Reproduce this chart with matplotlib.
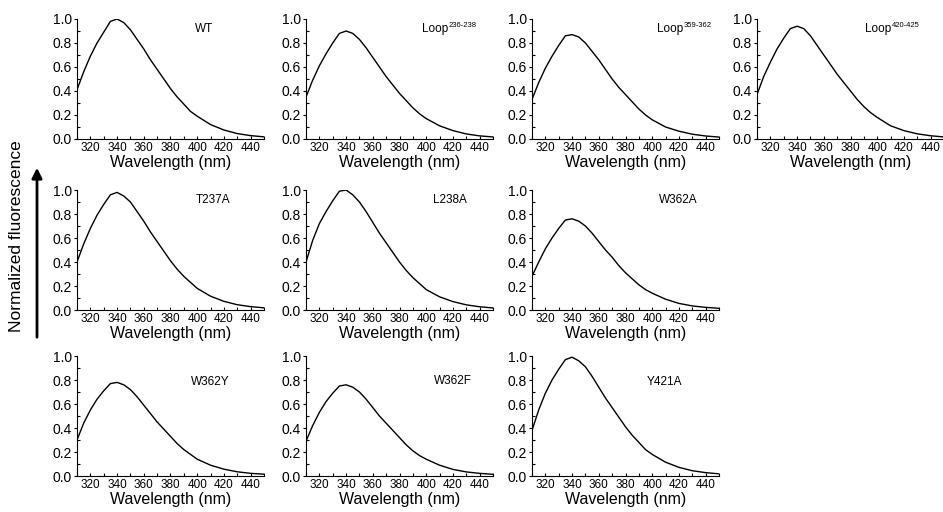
import matplotlib
matplotlib.use("Agg")
import matplotlib.pyplot as plt
from matplotlib.patches import FancyArrowPatch

plt.rcParams['font.family'] = ['Liberation Sans', 'DejaVu Sans']

# emission wavelengths (nm)
wavelength = [310, 315, 320, 325, 330, 335, 340, 345, 350, 355, 360, 365, 370, 375,
              380, 385, 390, 395, 400, 410, 420, 430, 440, 450]

# normalized emission spectra for each construct
wt = [0.41, 0.56, 0.69, 0.80, 0.89, 0.98, 1.00, 0.97, 0.91, 0.83, 0.75, 0.66, 0.58, 0.50,
      0.42, 0.35, 0.29, 0.23, 0.19, 0.12, 0.075, 0.045, 0.028, 0.018]
loop_236 = [0.35, 0.49, 0.61, 0.71, 0.80, 0.88, 0.90, 0.88, 0.83, 0.76, 0.68, 0.60, 0.52, 0.45,
            0.38, 0.32, 0.26, 0.21, 0.17, 0.11, 0.07, 0.042, 0.026, 0.017]
loop_359 = [0.33, 0.47, 0.59, 0.69, 0.78, 0.86, 0.87, 0.85, 0.80, 0.73, 0.66, 0.58, 0.50, 0.43,
            0.37, 0.31, 0.25, 0.20, 0.16, 0.10, 0.065, 0.04, 0.025, 0.016]
loop_420 = [0.37, 0.52, 0.64, 0.75, 0.84, 0.92, 0.94, 0.92, 0.86, 0.78, 0.70, 0.62, 0.54, 0.47,
            0.40, 0.33, 0.27, 0.22, 0.18, 0.11, 0.07, 0.043, 0.027, 0.017]
t237a = [0.40, 0.55, 0.68, 0.79, 0.88, 0.96, 0.98, 0.95, 0.90, 0.82, 0.74, 0.65, 0.57, 0.49,
         0.41, 0.34, 0.28, 0.23, 0.18, 0.115, 0.072, 0.044, 0.028, 0.018]
l238a = [0.40, 0.58, 0.72, 0.82, 0.91, 0.99, 1.00, 0.96, 0.90, 0.82, 0.73, 0.64, 0.56, 0.48,
         0.40, 0.33, 0.27, 0.22, 0.17, 0.11, 0.07, 0.043, 0.027, 0.017]
w362a = [0.28, 0.40, 0.51, 0.60, 0.68, 0.75, 0.76, 0.74, 0.70, 0.64, 0.57, 0.50, 0.44, 0.37,
         0.31, 0.26, 0.21, 0.17, 0.14, 0.09, 0.055, 0.034, 0.022, 0.014]
w362y = [0.30, 0.44, 0.55, 0.64, 0.71, 0.77, 0.78, 0.76, 0.72, 0.66, 0.59, 0.52, 0.45, 0.39,
         0.33, 0.27, 0.22, 0.18, 0.14, 0.09, 0.057, 0.035, 0.022, 0.015]
w362f = [0.29, 0.42, 0.53, 0.62, 0.69, 0.75, 0.76, 0.74, 0.70, 0.64, 0.57, 0.50, 0.44, 0.38,
         0.32, 0.26, 0.21, 0.17, 0.14, 0.09, 0.055, 0.034, 0.022, 0.014]
y421a = [0.38, 0.55, 0.69, 0.80, 0.89, 0.97, 0.99, 0.96, 0.91, 0.83, 0.74, 0.65, 0.57, 0.49,
         0.41, 0.34, 0.28, 0.22, 0.18, 0.115, 0.072, 0.044, 0.028, 0.018]

x_ticks = [320, 340, 360, 380, 400, 420, 440]
x_minor = [310, 330, 350, 370, 390, 410, 430, 450]
y_ticks = [0.0, 0.2, 0.4, 0.6, 0.8, 1.0]
y_minor = [0.1, 0.3, 0.5, 0.7, 0.9]

# (row, col, name, superscript, spectrum, label x, label y)
panels = [
    (0, 0, "WT", "", wt, 0.68, 0.97),
    (0, 1, "Loop", "236-238", loop_236, 0.69, 0.97),
    (0, 2, "Loop", "359-362", loop_359, 0.74, 0.97),
    (0, 3, "Loop", "420-425", loop_420, 0.65, 0.97),
    (1, 0, "T237A", "", t237a, 0.73, 0.97),
    (1, 1, "L238A", "", l238a, 0.77, 0.97),
    (1, 2, "W362A", "", w362a, 0.78, 0.97),
    (2, 0, "W362Y", "", w362y, 0.71, 0.83),
    (2, 1, "W362F", "", w362f, 0.785, 0.84),
    (2, 2, "Y421A", "", y421a, 0.71, 0.83),
]

W, H = 943, 512
fig = plt.figure(figsize=(W / 100, H / 100), dpi=100)

col_left = [77, 306, 532, 757]
row_top = [19, 190, 356]
ax_w, ax_h = 187, 120

for row, col, name, sup, spec, lx, ly in panels:
    left = col_left[col] / W
    bottom = 1 - (row_top[row] + ax_h) / H
    ax = fig.add_axes([left, bottom, ax_w / W, ax_h / H])
    ax.plot(wavelength, spec, color="black", lw=1.0)
    ax.set_xlim(310, 450)
    ax.set_ylim(0, 1.0)
    ax.spines["top"].set_visible(False)
    ax.spines["right"].set_visible(False)
    ax.set_xticks(x_ticks)
    ax.set_xticks(x_minor, minor=True)
    ax.set_yticks(y_ticks)
    ax.set_yticks(y_minor, minor=True)
    ax.set_yticklabels([f"{v:.1f}" for v in y_ticks])
    ax.tick_params(axis="x", which="both", direction="in", length=2.5, width=0.8,
                   labelsize=8.5, pad=2)
    ax.tick_params(axis="y", which="major", direction="out", length=2.5, width=0.8,
                   labelsize=10, pad=1)
    ax.tick_params(axis="y", which="minor", direction="in", length=2, width=0.8)
    ax.set_xlabel("Wavelength (nm)", fontsize=11.5, labelpad=1)
    txt = ax.text(lx, ly, name, transform=ax.transAxes, ha="center", va="top",
                  fontsize=8.5)
    if sup:
        ax.annotate(sup, xy=(1.0, 1.05), xycoords=txt, ha="left", va="top",
                    fontsize=5.5)

# shared y label with arrow
fig.text(17 / W, 1 - 236 / H, "Normalized fluorescence", rotation=90,
         ha="center", va="center", fontsize=12.5)
fig.add_artist(FancyArrowPatch(
    (37 / W, 1 - 340 / H), (37 / W, 1 - 165 / H), transform=fig.transFigure,
    arrowstyle="-|>,head_length=6,head_width=3", color="black", lw=2))

fig.savefig("out.png", dpi=100)
